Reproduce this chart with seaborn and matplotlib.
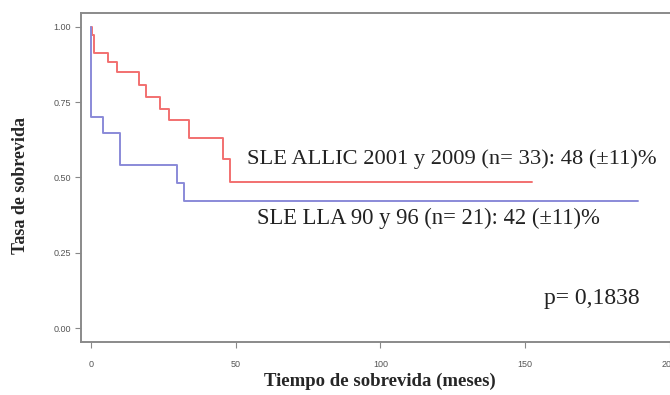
import matplotlib
matplotlib.use("Agg")
import matplotlib.pyplot as plt
import seaborn as sns
import pandas as pd

# --- data ---
red_label = "SLE ALLIC 2001 y 2009"
red_time = [0, 0.3, 1.0, 5.9, 9.0, 16.6, 19.0, 23.9, 27.0, 33.9, 45.7, 48.0, 152.6]
red_surv = [1.00, 0.972, 0.912, 0.882, 0.848, 0.806, 0.767, 0.728, 0.689, 0.632, 0.562, 0.484, 0.484]

blue_label = "SLE LLA 90 y 96"
blue_time = [0, 0.1, 4.2, 10.0, 29.8, 32.2, 189.0]
blue_surv = [1.00, 0.70, 0.647, 0.542, 0.481, 0.422, 0.422]

xticks = [0, 50, 100, 150, 200]
yticks = [0.00, 0.25, 0.50, 0.75, 1.00]
ytick_labels = ["0.00", "0.25", "0.50", "0.75", "1.00"]

annot_red = "SLE ALLIC 2001 y 2009 (n= 33): 48 (±11)%"
annot_blue = "SLE LLA 90 y 96 (n= 21): 42 (±11)%"
annot_p = "p= 0,1838"
xlabel = "Tiempo de sobrevida (meses)"
ylabel = "Tasa de sobrevida"

df = pd.concat([
    pd.DataFrame({"t": red_time, "s": red_surv, "g": red_label}),
    pd.DataFrame({"t": blue_time, "s": blue_surv, "g": blue_label}),
])

sns.set_theme(style="white")
plt.rcParams["font.family"] = ["Liberation Serif", "DejaVu Serif"]

fig = plt.figure(figsize=(6.7, 3.95), dpi=100)
ax = fig.add_axes([0.1209, 0.1342, 0.9, 0.833])

sns.lineplot(data=df, x="t", y="s", hue="g", estimator=None, sort=False,
             drawstyle="steps-post", palette={red_label: "#F27070", blue_label: "#8A8AD8"},
             linewidth=1.4, legend=False, ax=ax)

ax.set_xlim(-3.5, 205)
ax.set_ylim(-0.045, 1.045)
ax.set_xticks(xticks)
ax.set_yticks(yticks)
ax.set_yticklabels(ytick_labels)

for lab in ax.get_xticklabels() + ax.get_yticklabels():
    lab.set_family(["Liberation Sans"])
    lab.set_fontsize(6.5)
    lab.set_color("#555555")
ax.tick_params(axis="both", direction="out", length=4, width=0.8, color="#888888",
               bottom=True, left=True, pad=9)
ax.tick_params(axis="y", pad=3)

for side in ["left", "bottom", "top", "right"]:
    ax.spines[side].set_color("#8a8a8a")
    ax.spines[side].set_linewidth(1.4)

ax.set_xlabel(xlabel, fontsize=13.5, fontweight="bold")
ax.set_ylabel(ylabel, fontsize=13, fontweight="bold")
ax.xaxis.set_label_coords(0.495, -0.092)
ax.yaxis.set_label_coords(-0.086, 0.477)

ax.text(54, 0.56, annot_red, fontsize=16.2, va="center", ha="left", color="#222222")
ax.text(57.4, 0.365, annot_blue, fontsize=16.3, va="center", ha="left", color="#222222")
ax.text(156.5, 0.10, annot_p, fontsize=17, va="center", ha="left", color="#222222")

fig.savefig("out.png", dpi=100)
